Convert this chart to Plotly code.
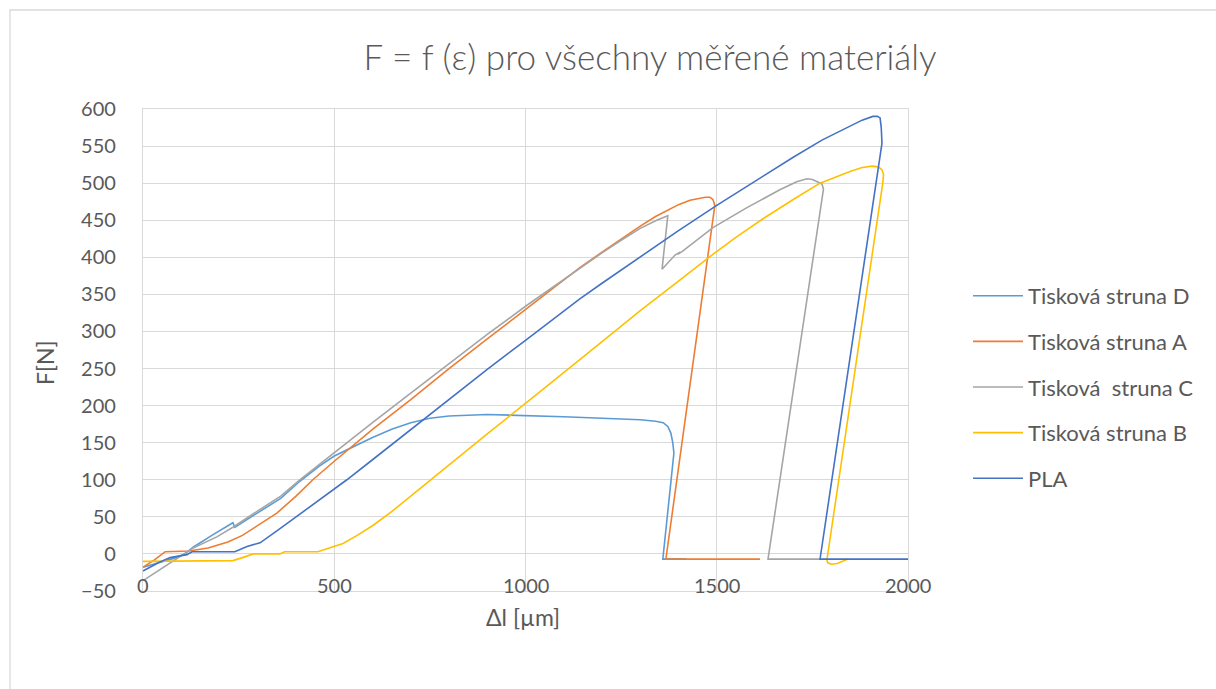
import plotly.graph_objects as go

# ---- data ----
d_x = [0, 40, 80, 110, 131, 180, 235, 240, 300, 360, 410, 460, 500, 550, 600, 650, 700, 750, 800, 900, 1000, 1100, 1200, 1300, 1340, 1360, 1372, 1380, 1385, 1388, 1359, 1420]
d_y = [-18, -12, -6, 0, 9, 25, 42, 36, 55, 75, 98, 118, 132, 145, 157, 168, 177, 183, 186, 188, 187, 185, 183, 181, 179, 177, 172, 163, 150, 136, -7, -7]

a_x = [0, 30, 58, 120, 170, 222, 260, 300, 350, 400, 444, 500, 600, 700, 800, 900, 1000, 1100, 1142, 1200, 1250, 1300, 1340, 1378, 1400, 1430, 1450, 1470, 1482, 1490, 1495, 1367, 1613]
a_y = [-18, -8, 3, 4, 8, 16, 25, 38, 55, 78, 100, 125, 168, 208, 250, 290, 330, 370, 386, 407, 425, 442, 455, 465, 471, 477, 479, 481, 481, 478, 470, -7, -7]

c_x = [0, 71, 131, 193, 235, 300, 360, 410, 500, 600, 700, 800, 900, 1000, 1100, 1142, 1200, 1250, 1300, 1343, 1372, 1357, 1391, 1404, 1398, 1410, 1490, 1579, 1665, 1709, 1725, 1736, 1750, 1764, 1775, 1779, 1634, 1770]
c_y = [-36, -12, 8, 23, 36, 58, 78, 100, 137, 177, 217, 257, 296, 334, 370, 386, 406, 423, 439, 450, 456, 384, 403, 407, 404, 408, 440, 467, 491, 502, 505, 506, 505, 502, 499, 492, -7, -7]

b_x = [0, 100, 200, 235, 260, 288, 358, 370, 457, 490, 523, 560, 600, 650, 700, 750, 800, 900, 1000, 1100, 1142, 1247, 1300, 1400, 1477, 1550, 1621, 1700, 1770, 1850, 1880, 1906, 1922, 1932, 1936, 1934, 1788, 1790, 1800, 1815, 1843]
b_y = [-10, -10, -10, -9, -5, 0, 0, 3, 3, 8, 14, 25, 38, 57, 78, 100, 121, 162, 203, 244, 262, 306, 328, 368, 399, 427, 452, 478, 500, 516, 521, 523, 522, 518, 512, 500, -8, -12, -14, -13, -7]

p_x = [0, 40, 71, 115, 128, 180, 240, 272, 306, 350, 400, 450, 500, 533, 600, 700, 800, 900, 1000, 1100, 1142, 1200, 1300, 1400, 1500, 1600, 1700, 1775, 1850, 1880, 1908, 1920, 1927, 1930, 1932, 1770, 2000]
p_y = [-23, -12, -5, -1, 3, 3, 3, 10, 15, 31, 50, 69, 88, 100, 127, 168, 209, 249, 288, 327, 344, 365, 401, 436, 470, 503, 535, 558, 578, 585, 590, 590, 588, 575, 554, -7, -7]

series = [
    ("Tisková struna D", d_x, d_y, "#5B9BD5"),
    ("Tisková struna A", a_x, a_y, "#ED7D31"),
    ("Tisková  struna C", c_x, c_y, "#A5A5A5"),
    ("Tisková struna B", b_x, b_y, "#FFC000"),
    ("PLA", p_x, p_y, "#4472C4"),
]

x_ticks = [0, 500, 1000, 1500, 2000]
y_ticks = list(range(-50, 601, 50))

FONT = "Lato"
TXT = "#595959"
GRID = "#D9D9D9"

fig = go.Figure()
for i, (name, xs, ys, col) in enumerate(series):
    fig.add_trace(go.Scatter(
        x=xs, y=ys, mode="lines", name=name,
        line=dict(color=col, width=1.6),
        legendgroup=f"g{i}",
    ))

fig.update_layout(
    width=1216, height=689,
    margin=dict(l=143, r=308, t=109, b=98, autoexpand=False),
    paper_bgcolor="white", plot_bgcolor="white",
    font=dict(family=FONT, color=TXT, size=20),
    title=dict(text="F = f (ε) pro všechny měřené materiály",
               x=650 / 1216, y=1 - 58 / 689, xanchor="center", yanchor="middle",
               font=dict(family=FONT, size=35, color=TXT, weight=300)),
    showlegend=True,
    legend=dict(x=(968 - 143) / 765, y=(591 - 275) / 482, xanchor="left", yanchor="top",
                font=dict(family=FONT, size=22, color=TXT),
                itemwidth=50, tracegroupgap=14, bgcolor="rgba(0,0,0,0)"),
    xaxis=dict(range=[0, 2000], tickvals=x_ticks, showticklabels=False,
               showgrid=True, gridcolor=GRID, gridwidth=1.3,
               showline=True, mirror=True, linecolor=GRID, linewidth=1.3,
               zeroline=False, ticks=""),
    yaxis=dict(range=[-50, 600], tickvals=y_ticks, showticklabels=True,
               tickfont=dict(family=FONT, size=20, color=TXT),
               ticklabelstandoff=22,
               showgrid=True, gridcolor=GRID, gridwidth=1.3,
               showline=True, mirror=True, linecolor=GRID, linewidth=1.3,
               zeroline=False, ticks=""),
)

# x tick labels sit just above the bottom of the plot area (Excel style, axis crossing at 0)
for v in x_ticks:
    fig.add_annotation(x=v, y=-42, xref="x", yref="y", text=str(v), showarrow=False,
                       xanchor="center", yanchor="middle",
                       font=dict(family=FONT, size=20, color=TXT))

fig.add_annotation(x=(523 - 143) / 765, y=(591 - 617) / 482, xref="paper", yref="paper",
                   text="Δl [µm]", showarrow=False, xanchor="center", yanchor="middle",
                   font=dict(family=FONT, size=23, color=TXT))
fig.add_annotation(x=(45 - 143) / 765, y=(591 - 363) / 482, xref="paper", yref="paper",
                   text="F[N]", showarrow=False, textangle=-90, xanchor="center", yanchor="middle",
                   font=dict(family=FONT, size=23, color=TXT))

# chart frame
fig.add_shape(type="rect", xref="paper", yref="paper",
              x0=(10 - 143) / 765, x1=(1230 - 143) / 765,
              y0=(591 - 720) / 482, y1=(591 - 10) / 482,
              line=dict(color=GRID, width=1.3), fillcolor="rgba(0,0,0,0)", layer="below")

fig.write_html("out.html")
